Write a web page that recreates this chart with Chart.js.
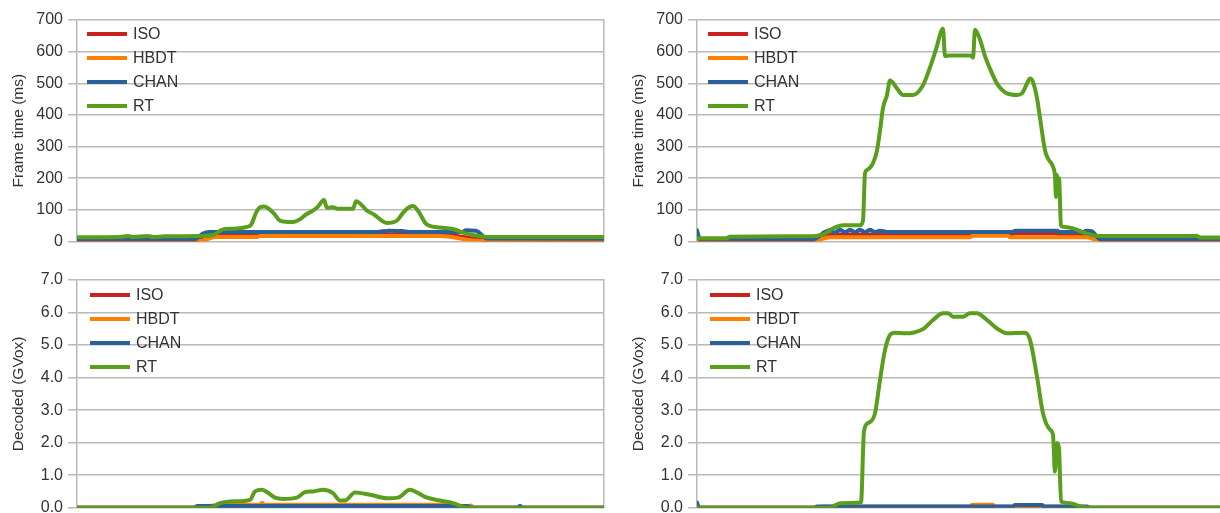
<!DOCTYPE html>
<html>
<head>
<meta charset="utf-8">
<script src="https://cdn.jsdelivr.net/npm/chart.js@4.4.0/dist/chart.umd.min.js"></script>
<style>
html,body{margin:0;padding:0;background:#fff;overflow:hidden;width:1220px;height:513px;position:relative;}
.p{position:absolute;}
canvas{display:block;}
</style>
</head>
<body>
<div class="p" style="left:0;top:0"><canvas id="c1" width="610" height="256"></canvas></div>
<div class="p" style="left:620px;top:0"><canvas id="c2" width="610" height="256"></canvas></div>
<div class="p" style="left:0;top:256px"><canvas id="c3" width="610" height="270"></canvas></div>
<div class="p" style="left:620px;top:256px"><canvas id="c4" width="610" height="270"></canvas></div>
<script>
// ---- series names / colours ----
const seriesNames = ['ISO', 'HBDT', 'CHAN', 'RT'];
const seriesColors = ['#c9211e', '#ff8000', '#2a6099', '#5a9e1e'];

// ---- tick labels ----
const frameTimeTicks = ['0', '100', '200', '300', '400', '500', '600', '700'];
const decodedTicks = ['0.0', '1.0', '2.0', '3.0', '4.0', '5.0', '6.0', '7.0'];
const frameCount = 527;

// ---- Frame time (ms), left run : [frame, value] ----
const ftLeftISO = [[0,4],[120,4],[130,22],[363,22],[400,8],[410,5],[527,4]];
const ftLeftHBDT = [[0,1],[123,1],[138,14],[180,14],[183,17],[363,17],[401,2],[527,1]];
const ftLeftCHAN = [[0,7],[118,7],[126,25],[132,30],[300,30],[312,34],[325,33],[332,30],[385,30],[389,35],[399,34],[410,9],[527,8]];
const ftLeftRT = [[0,13],[43,14],[51,17],[56,14],[71,17],[76,14],[88,16],[123,17],[136,20],[146,38],[156,40],[170,46],[174,52],[179,90],[183,108],[187,110],[191,105],[197,88],[203,66],[216,61],[223,70],[229,85],[236,97],[241,110],[247,131],[250,106],[256,108],[261,103],[276,103],[279,127],[283,120],[290,97],[296,87],[310,58],[320,66],[326,90],[331,106],[336,112],[341,97],[350,53],[363,44],[376,39],[386,28],[396,20],[410,14],[527,14]];

// ---- Frame time (ms), right run ----
const ftRightISO = [[0,3],[116,3],[130,22],[316,22],[318,26],[360,26],[362,22],[395,22],[405,3],[527,3]];
const ftRightHBDT = [[0,1],[116,1],[133,13],[273,13],[275,18],[311,18],[313,13],[390,13],[403,2],[527,1]];
const ftRightCHAN = [[0,35],[3,7],[116,7],[128,30],[133,36],[138,28],[143,37],[148,29],[153,37],[158,29],[163,37],[168,29],[173,37],[178,30],[183,34],[190,30],[316,30],[318,34],[360,34],[362,30],[385,30],[390,34],[395,32],[403,7],[527,7]];
const ftRightRT = [[0,10],[30,10],[32,15],[113,16],[126,22],[136,41],[146,51],[163,51],[166,66],[168,216],[170,226],[176,247],[180,288],[183,350],[186,422],[190,463],[193,509],[200,484],[206,463],[216,463],[226,494],[233,550],[239,607],[246,672],[248,586],[253,588],[273,588],[276,581],[278,669],[283,638],[288,586],[293,546],[300,499],[310,468],[320,463],[325,468],[330,499],[333,515],[336,504],[340,453],[343,391],[348,288],[351,262],[356,236],[358,205],[359,140],[360,210],[361,150],[362,200],[364,51],[366,46],[376,41],[385,30],[393,22],[403,17],[500,17],[503,12],[527,12]];

// ---- Decoded (GVox), left run ----
const decLeftISO = [[0,0],[125,0],[135,0.06],[380,0.06],[392,0],[527,0]];
const decLeftHBDT = [[0,0],[133,0],[140,0.09],[183,0.09],[185,0.15],[187,0.09],[370,0.09],[390,0.02],[394,0.07],[396,0],[527,0]];
const decLeftCHAN = [[0,0],[118,0],[120,0.05],[390,0.05],[395,0],[441,0],[443,0.06],[445,0],[527,0]];
const decLeftRT = [[0,0],[133,0],[143,0.14],[153,0.19],[163,0.2],[173,0.24],[178,0.5],[185,0.55],[190,0.48],[198,0.31],[206,0.27],[220,0.31],[228,0.48],[236,0.5],[246,0.55],[256,0.45],[263,0.22],[268,0.22],[278,0.47],[293,0.4],[310,0.29],[321,0.31],[333,0.55],[340,0.47],[348,0.33],[363,0.22],[376,0.14],[390,0],[527,0]];

// ---- Decoded (GVox), right run ----
const decRightISO = [[0,0],[120,0],[125,0.03],[385,0.03],[390,0],[527,0]];
const decRightHBDT = [[0,0],[273,0],[275,0.09],[296,0.09],[298,0],[527,0]];
const decRightCHAN = [[0,0.16],[2,0],[118,0],[120,0.04],[316,0.04],[318,0.08],[345,0.08],[347,0.04],[390,0.04],[392,0],[527,0]];
const decRightRT = [[0,0],[133,0],[143,0.14],[164,0.16],[167,2.35],[171,2.6],[178,2.9],[183,3.93],[188,4.85],[193,5.31],[198,5.38],[208,5.36],[216,5.38],[226,5.49],[236,5.77],[246,5.98],[251,5.98],[256,5.87],[266,5.87],[273,5.98],[280,5.98],[290,5.77],[300,5.51],[310,5.36],[328,5.38],[333,5.16],[340,4.03],[346,2.9],[353,2.4],[356,2.24],[358,1.11],[360,1.99],[362,1.83],[364,0.19],[373,0.14],[383,0.04],[390,0],[527,0]];

const FONT = '"Liberation Sans", Arial, sans-serif';
const GRID = '#b9b9b9';
const TXT = '#333333';

const inlineLegend = {
  id: 'inlineLegend',
  afterDraw(chart, args, opts) {
    const {ctx, chartArea} = chart;
    ctx.save();
    ctx.font = '16px ' + FONT;
    ctx.textBaseline = 'middle';
    ctx.textAlign = 'left';
    chart.data.datasets.forEach((ds, i) => {
      const y = chartArea.top + opts.top + i * opts.step;
      const x = chartArea.left + opts.left;
      ctx.fillStyle = ds.borderColor;
      ctx.fillRect(x, y - 2, 40, 4);
      ctx.fillStyle = TXT;
      ctx.fillText(ds.label, x + 46, y + 0.5);
    });
    ctx.restore();
  }
};

function makeChart(id, seriesList, cfg) {
  const datasets = seriesList.map((pts, i) => ({
    label: seriesNames[i],
    data: pts.map(p => ({x: p[0], y: p[1]})),
    borderColor: seriesColors[i],
    backgroundColor: seriesColors[i],
    borderWidth: 4,
    pointRadius: 0,
    cubicInterpolationMode: 'monotone',
    borderJoinStyle: 'round',
    borderCapStyle: 'round',
    order: 3 - i
  }));
  return new Chart(document.getElementById(id), {
    type: 'line',
    data: {datasets},
    plugins: [inlineLegend],
    options: {
      responsive: false,
      animation: false,
      devicePixelRatio: 1,
      layout: {padding: {top: cfg.padTop, right: 6, bottom: cfg.padBottom, left: 0}},
      plugins: {
        legend: {display: false},
        tooltip: {enabled: false},
        inlineLegend: {left: cfg.legLeft, top: cfg.legTop, step: 24}
      },
      scales: {
        x: {type: 'linear', display: false, min: 0, max: frameCount},
        y: {
          position: 'left',
          min: 0, max: cfg.max,
          afterBuildTicks(s) { s.ticks = cfg.labels.map((l, i) => ({value: i * cfg.max / (cfg.labels.length - 1)})); },
          afterFit(s) { s.width = 77; },
          ticks: {
            padding: 5,
            color: TXT,
            font: {family: FONT, size: 16},
            callback: (v, i) => cfg.labels[i]
          },
          grid: {color: GRID, lineWidth: 1.5, tickLength: 9, tickColor: GRID},
          border: {display: true, color: GRID, width: 1.5},
          title: {display: true, text: cfg.title, color: TXT, font: {family: FONT, size: 15.5}, padding: {top: 9, bottom: 0}}
        },
        y2: {
          position: 'right',
          min: 0, max: 1,
          afterFit(s) { s.width = 0; },
          ticks: {display: false},
          grid: {display: false, drawTicks: false},
          border: {display: true, color: GRID, width: 1.5}
        }
      }
    }
  });
}

const topCfg = {max: 700, labels: frameTimeTicks, title: 'Frame time (ms)', padTop: 20, padBottom: 9.5, legTop: 14, legLeft: 10};
const botCfg = {max: 7, labels: decodedTicks, title: 'Decoded (GVox)', padTop: 24, padBottom: 18.3, legTop: 15, legLeft: 13};

makeChart('c1', [ftLeftISO, ftLeftHBDT, ftLeftCHAN, ftLeftRT], topCfg);
makeChart('c2', [ftRightISO, ftRightHBDT, ftRightCHAN, ftRightRT], Object.assign({}, topCfg, {legLeft: 11}));
makeChart('c3', [decLeftISO, decLeftHBDT, decLeftCHAN, decLeftRT], botCfg);
makeChart('c4', [decRightISO, decRightHBDT, decRightCHAN, decRightRT], botCfg);
</script>
</body>
</html>
